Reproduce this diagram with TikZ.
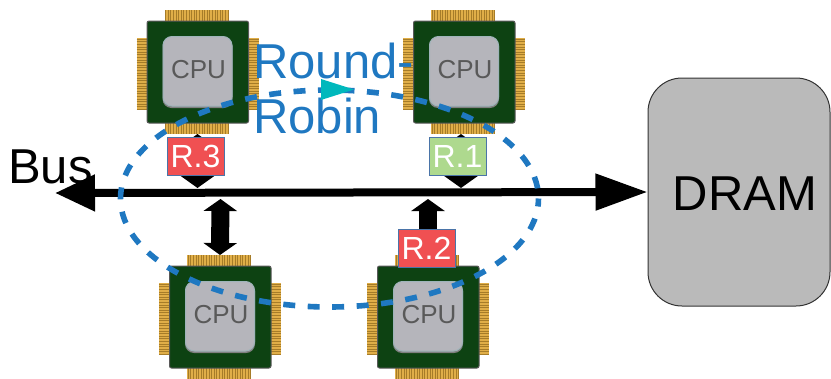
\documentclass[tikz,border=0pt]{standalone}
\usepackage{fontspec}
\setmainfont{Liberation Sans}
\usetikzlibrary{arrows.meta}
\definecolor{chipgreen}{HTML}{0D4212}
\definecolor{pingold}{HTML}{E0AE48}
\definecolor{pindark}{HTML}{A67C28}
\definecolor{diegray}{HTML}{B5B5BB}
\definecolor{dieedge}{HTML}{9FB4BA}
\definecolor{rrblue}{HTML}{1F78C1}
\definecolor{reqred}{HTML}{F05052}
\definecolor{reqgreen}{HTML}{AED98E}
\definecolor{reqedge}{HTML}{4A74A8}
\definecolor{teal}{HTML}{00B8BC}
\tikzset{
  x=1pt,y=-1pt,
  chiparea/.style={minimum size=124pt,inner sep=0pt,outer sep=0pt},
  pinrow/.style={fill=pingold,draw=none},
  pintick/.style={draw=pindark,line width=0.55pt},
  chipbody/.style={fill=chipgreen,draw=black!65,line width=1pt,rounded corners=2pt},
  dieshadow/.style={fill=black!50,rounded corners=9pt},
  diebox/.style={fill=diegray,draw=dieedge,line width=1pt,rounded corners=9pt},
  cpulabel/.style={text=black!65,font=\fontsize{26}{26}\selectfont,inner sep=0pt},
  reqbox/.style={draw=reqedge,line width=0.8pt,text=white,minimum width=57pt,minimum height=38pt,inner sep=0pt,font=\fontsize{32}{32}\selectfont},
  buslink/.style={line width=18pt,{Triangle[length=12pt,width=33pt]}-{Triangle[length=12pt,width=33pt]}},
  busline/.style={line width=8pt,{Triangle[length=40pt,width=35pt]}-{Triangle[length=52pt,width=35pt]}},
  ringpath/.style={draw=rrblue,line width=5.6pt,dash pattern=on 12pt off 12.5pt,dash phase=4pt},
  bigtext/.style={inner sep=0pt,font=\fontsize{49}{49}\selectfont}
}
\newcommand{\cpuchip}[3]{%
  \node[chiparea] (#1) at (#2,#3) {};
  \begin{scope}[shift={(#2,#3)}]
    \fill[pinrow] (-33,-62) rectangle (31,-51);
    \fill[pinrow] (-33,51) rectangle (31,62);
    \fill[pinrow] (-61,-34) rectangle (-50,38);
    \fill[pinrow] (50,-34) rectangle (61,38);
    \foreach \k in {0,...,24}{
      \draw[pintick] ({-32+2.6*\k},-62) -- ++(0,11);
      \draw[pintick] ({-32+2.6*\k},51) -- ++(0,11);
    }
    \foreach \k in {0,...,27}{
      \draw[pintick] (-61,{-33+2.6*\k}) -- ++(11,0);
      \draw[pintick] (50,{-33+2.6*\k}) -- ++(11,0);
    }
    \draw[chipbody] (-50.5,-51) rectangle (51,51);
    \fill[dieshadow] (-35,-35) rectangle (35,36);
    \draw[diebox] (-34.5,-35.5) rectangle (34.5,34);
    \node[cpulabel] at (1,-2.5) {CPU};
  \end{scope}
}
\begin{document}
\begin{tikzpicture}
\useasboundingbox (0,0) rectangle (831,378);
\cpuchip{cpuA}{197.5}{72}
\cpuchip{cpuB}{464}{72}
\cpuchip{cpuC}{220}{317}
\cpuchip{cpuD}{428}{317}
\node[draw=black!80,fill=black!27,line width=1pt,rounded corners=34pt,minimum width=182pt,minimum height=228pt,inner sep=0pt] (dram) at (739,192) {};
\node[inner sep=0pt,font=\fontsize{49}{49}\selectfont] (dramText) at (745,194) {DRAM};
\coordinate (busL) at (55,193);
\coordinate (tapA) at (197.5,188);
\coordinate (tapB) at (461,188);
\coordinate (tapC) at (220.5,199);
\coordinate (tapD) at (428,199);
\draw[busline] (busL) -- (dram.west);
\draw[buslink] (197.5,134) -- (tapA);
\draw[buslink] (461,134) -- (tapB);
\draw[buslink] (tapC) -- (cpuC.north);
\draw[buslink,{Triangle[length=12pt,width=33pt]}-] (tapD) -- (428,240);
\node[reqbox,fill=reqred] (rA) at (195.5,156) {R.3};
\node[reqbox,fill=reqgreen] (rB) at (457.5,156) {R.1};
\node[reqbox,fill=reqred] (rC) at (426.5,248.5) {R.2};
\node[bigtext,anchor=base west] (busText) at (8,183) {Bus};
\draw[ringpath] (329.5,198.5) ellipse [x radius=209,y radius=108.5];
\node[bigtext,text=rrblue,anchor=base west] (rrA) at (253,78) {Round-};
\node[bigtext,text=rrblue,anchor=base west] (rrB) at (253,133) {Robin};
\fill[teal] (321,79) -- (354,89.5) -- (321,100) -- cycle;
\end{tikzpicture}
\end{document}
